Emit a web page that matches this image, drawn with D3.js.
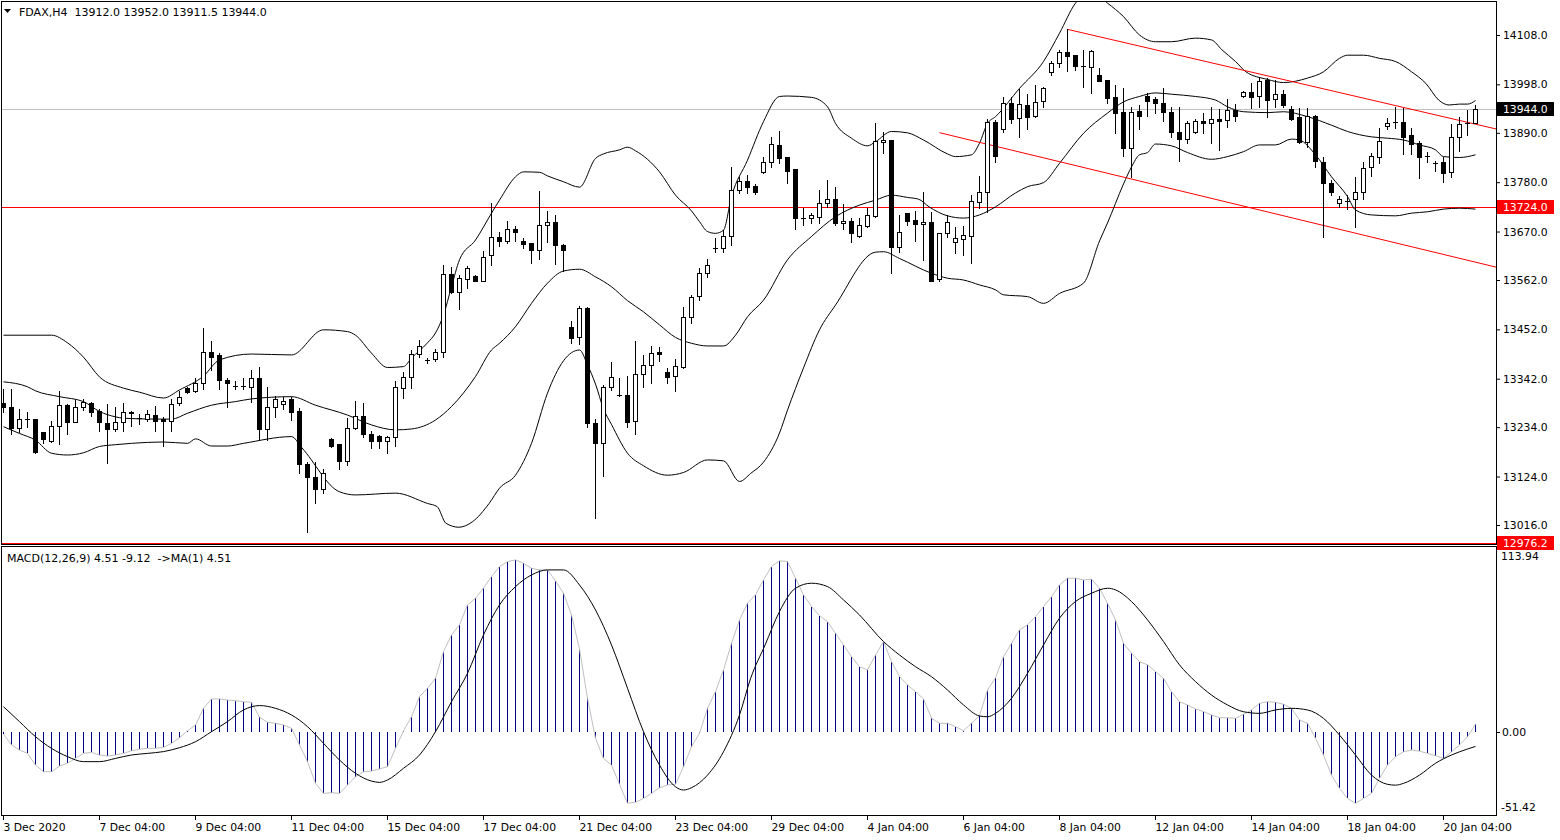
<!DOCTYPE html>
<html><head><meta charset="utf-8">
<script src="https://cdn.jsdelivr.net/npm/d3@7"></script>
<style>
html,body{margin:0;padding:0;background:#fff;}
svg{display:block;}
text{font-family:"DejaVu Sans",Verdana,sans-serif;}
</style></head><body>
<svg id="c" width="1560" height="840"></svg>
<script>
// ---------------- DATA ----------------
const symbol = "FDAX,H4";
const opens = [13287,13278.3,13231.5,13252.3,13252.3,13222.5,13204,13237.4,13282.7,13246.3,
13278.3,13287,13270.8,13242.6,13229.2,13244.8,13268.6,13255.2,13251.5,13260.4,
13251.5,13247.8,13287.2,13320.6,13313.9,13331.8,13400.8,13394.9,13339.2,13326.5,
13326.5,13322.8,13342.9,13229.2,13278.2,13285,13296.8,13270.1,13151.9,13123.7,
13095.5,13206.9,13196.5,13159.4,13231.4,13258.9,13218.8,13214.4,13203.2,13212.9,
13322,13345.1,13397.1,13383,13385.2,13400.8,13574.6,13536,13563.5,13571.7,
13560.5,13617.7,13658.5,13649.6,13676.4,13648.9,13643.7,13628.8,13685.3,13690.5,
13640,13456.5,13434.2,13498.9,13244,13199.4,13322.8,13305.7,13305.7,13248.4,
13351.7,13372.5,13400.8,13356.2,13348,13368.8,13480.3,13526.3,13576.8,13632.5,
13632.5,13660,13762.5,13783.3,13771.4,13801.9,13824.2,13862.8,13836.8,13808.6,
13700.9,13700.9,13703.1,13732.8,13741.7,13688.2,13692.7,13660,13682.3,13704.6,
13868.8,13874,13634.8,13710.5,13695.7,13686,13690.5,13563.5,13666,13647.4,
13652.6,13660.7,13736.5,13757.3,13913.3,13897.8,13955.7,13922.3,13952,13928.2,
13960.9,14024.8,14044.9,14069.4,14063.4,14039.6,14037.4,14018.9,14007.7,13969.1,
13937.1,13856.9,13938.6,13972.8,13964.6,13955.7,13935.6,13892.6,13875.5,13892.6,
13917.1,13911.1,13920,13918.5,13940.8,13972.8,13980.3,13972.8,14007.8,13964.7,
13976.6,13943.1,13926,13870.3,13927.5,13825.8,13777.5,13732.9,13738.8,13741.8,
13758.9,13813.1,13836.9,13905.2,13913.4,13914.9,13885.2,13866.6,13839.1,13822,
13824.3,13802,13881.5,13911.2,13912.0];
const highs = [13319,13319.1,13273.8,13267.1,13252.3,13224,13247.8,13314.7,13285,13294.6,
13296,13290.2,13275.3,13285.7,13278.3,13287.2,13270.8,13263.4,13272.3,13281.2,
13257.5,13296.8,13313.9,13324.3,13344.4,13455.8,13426.1,13398.6,13342.9,13336.9,
13342.9,13361.4,13367.4,13324.3,13304.2,13300.5,13302,13276,13157.1,13157.1,
13140,13209.1,13196.5,13253.7,13293.1,13287.2,13226.2,13216.6,13214.4,13337.7,
13357.7,13406,13428.3,13389,13409,13595.4,13590.2,13573.2,13593.2,13573.2,
13626.6,13734.4,13669.7,13693.4,13682.3,13654.8,13643.7,13761,13716.5,13706.8,
13642.2,13470.6,13504,13502.5,13251.4,13327.9,13380,13342.8,13348,13426,
13394.8,13414.9,13413.4,13366.6,13385.1,13501,13528.5,13589.4,13608,13654.8,
13673.4,13813,13790.7,13796,13775.1,13836.8,13880,13894,13836.8,13808.6,
13723.2,13712,13762.5,13784.8,13770,13730.6,13699.4,13699.4,13721.7,13911.1,
13892.5,13874,13706.8,13710.5,13715.7,13757.3,13714.2,13666,13706.8,13680.8,
13682.3,13751.4,13793.7,13920,13918.5,13969,13969,13986.9,13976.5,13996.6,
13991.4,14050.8,14074.6,14120.6,14063.4,14074.6,14074.6,14033.7,14007.7,13996.6,
13989.1,13946.8,13952,13978,13969,13989.1,13948.3,13946.8,13917.1,13920.8,
13933.4,13946.8,13942.3,13965.4,13954.2,13983.9,14000.3,14015.2,14011.5,14007.8,
13985.5,13949.8,13944.6,13944.6,13929.8,13836.9,13784.9,13749.2,13751.5,13792.3,
13825.8,13844.3,13901.4,13922.3,13946.8,13944.6,13900,13871.8,13848,13828,
13835.4,13909.7,13924.5,13940.9,13952.0];
const lows = [13268,13218.8,13224,13235.2,13175.7,13198,13200.2,13196.5,13218,13244.8,
13272.3,13259.7,13226.3,13153.5,13225.5,13225.5,13236.7,13240.4,13247.8,13225.5,
13192.8,13225.5,13283.5,13311,13313.2,13319.1,13361.5,13318.4,13278.3,13318.4,
13318.4,13289.4,13206.9,13205.4,13257.5,13274.5,13250,13132.6,13001.2,13064.3,
13088,13190.6,13140,13149.7,13229.2,13212.9,13186.9,13186.9,13177.2,13192.8,
13298.3,13320.6,13391.2,13377,13382.2,13391.2,13532.3,13496.7,13543.4,13560.5,
13559.8,13595.4,13638.5,13645.2,13649.6,13634,13600.6,13608.8,13647.4,13596.9,
13582,13422.3,13419.3,13235.1,13030.8,13125.9,13316.8,13304.2,13233.6,13218,
13324.2,13331.6,13381.4,13333.1,13315.3,13365.1,13465.4,13517.4,13569.4,13625.1,
13625.1,13639.9,13756.6,13755.1,13753.6,13799.7,13813,13822,13778.9,13675.6,
13684.5,13689.7,13689.7,13725.4,13684.5,13674.9,13647.4,13657,13680.8,13703.1,
13844.3,13578.3,13625.1,13684.5,13649.6,13606.5,13560.5,13560.5,13658.5,13622.9,
13617.7,13600.6,13721.7,13714.2,13824.2,13891.1,13912.6,13881.4,13898.5,13926,
13948.3,14018.9,14037.4,14028.5,14030,13992.8,13979.5,14006.2,13955.7,13890.3,
13838.3,13792.3,13898.5,13928.2,13933.4,13917.1,13881.4,13827.9,13868,13890.3,
13890.3,13868,13851.7,13903.7,13917.1,13969,13944.6,13948.3,13926,13948.3,
13948.3,13918.6,13866.6,13859.2,13814.6,13657.1,13751.5,13725.4,13719.5,13679.4,
13741.8,13793.8,13823.5,13897.8,13901.5,13842.8,13842.8,13788.6,13825.8,13805.7,
13781.2,13790.8,13850.3,13885.2,13911.5];
const closes = [13278,13231.5,13252.3,13252.3,13179.5,13206.9,13237.4,13282.7,13246.3,13278.3,
13290,13268.6,13244.8,13229.2,13244.8,13267.1,13264.9,13255.2,13262.7,13248.5,
13248.5,13284.9,13300.6,13311.7,13331.8,13400.8,13391.2,13339.2,13331.8,13326.5,
13326.5,13342.9,13229.2,13278.2,13296.8,13293.1,13268.6,13151.2,13122.2,13095.5,
13131.1,13192.8,13159.4,13231.4,13258.9,13218.8,13203.9,13203.2,13212.1,13322.8,
13345.1,13397.1,13414.9,13383,13400.8,13574.6,13536,13565.7,13588,13560.5,
13614,13657.1,13648.9,13674.9,13669.7,13642.9,13628.8,13684.5,13690.5,13639.2,
13628.8,13432,13498.9,13244,13199.4,13324.2,13345.1,13305.7,13246.2,13351.7,
13372.5,13398.5,13396.3,13346.5,13370.3,13478.8,13524.8,13576.8,13595.4,13632.5,
13660.7,13762.5,13783.3,13769.9,13758.8,13825.7,13865,13834.6,13805.6,13700.9,
13700.9,13706.8,13732.8,13741.7,13688.2,13692.7,13666,13684.5,13707.5,13871.7,
13874,13634.8,13669.7,13694.2,13686,13690.5,13560.5,13666,13692,13654.8,
13662.2,13738,13757.3,13914.8,13839,13955.7,13920,13953.5,13926,13957.9,
13989.1,14044.9,14069.4,14061.9,14039.6,14039.6,14072.3,14006.2,13968.3,13934.9,
13856.9,13935.6,13928.2,13961.6,13955.7,13935.6,13892.6,13875.5,13912.6,13917.1,
13911.1,13920.8,13917,13940.8,13927.5,13980.2,13970.6,14006.3,13963.2,13976.6,
13952,13920.8,13868.8,13927.5,13828,13777.5,13758.9,13741.8,13738.8,13758.9,
13810.9,13838.4,13872.6,13912.7,13913.4,13881.5,13865.1,13836.9,13839.1,13822,
13801.2,13881.5,13909.7,13911.2,13944.0];

// Bollinger bands [bar, price]
const bbUpper = [[0,13439],[6,13439],[8,13422],[10,13390],[12,13346],[15,13321],[17,13312],[20,13299],[22,13317],[25,13348],[27,13384],[31,13397],[36,13395],[40,13451],[43,13447],[44,13439],[46,13399],[48,13367],[50,13369],[51,13388],[53,13422],[54,13444],[55,13484],[56,13547],[57,13607],[59,13651],[61,13711],[62,13740],[64,13792],[65,13803],[67,13802],[68,13794],[70,13781],[72,13769],[74,13833],[75,13843],[77,13852],[78,13858],[79,13850],[82,13803],[84,13751],[86,13716],[87,13692],[88,13670],[89,13666],[90,13673],[91,13748],[93,13829],[95,13915],[97,13971],[98,13972],[101,13969],[103,13948],[104,13911],[106,13878],[108,13861],[109,13870],[111,13893],[113,13890],[115,13874],[118,13843],[119,13837],[121,13841],[122,13867],[123,13911],[124,13926],[127,13989],[130,14049],[132,14112],[134,14179],[136,14205],[138,14179],[140,14149],[142,14108],[144,14093],[146,14093],[149,14101],[151,14097],[152.3,14075],[154,14049],[155.3,14026],[158,14009],[160,14002],[163,14012],[165,14026],[167,14056],[168,14063],[170,14063],[172,14056],[174,14049],[176,14026],[177.8,14000],[179.4,13963],[180.7,13952],[182,13954],[183,13954],[184,13962]];
const bbMiddle = [[0,13335],[3,13324],[4,13315],[7,13302],[10,13291],[12,13269],[14,13257],[15,13254],[19,13252],[21,13252],[23,13265],[26,13283],[29,13291],[31,13297],[36,13302],[39,13283],[43,13261],[46,13239],[49,13228],[51,13230],[54,13250],[56,13280],[59,13347],[61,13406],[62,13421],[64,13458],[66,13510],[68,13555],[70,13582],[72,13586],[74,13569],[76,13547],[78,13516],[80,13491],[82,13462],[84,13434],[86,13421],[88,13415],[90,13415],[91.5,13439],[93,13480],[95,13517],[98,13607],[101,13659],[104,13703],[107,13729],[109,13740],[111,13751],[113,13746],[114.4,13742],[115.7,13725],[118,13705],[120,13700],[122,13707],[124,13725],[126.5,13756],[128,13770],[130,13779],[132,13822],[135,13889],[138,13934],[140,13959],[142,13971],[144,13979],[146,13976],[149,13971],[151.5,13963],[153,13948],[155,13937],[158,13935],[160,13937],[163,13926],[166,13907],[168,13893],[171,13881],[173,13878],[175,13874],[177,13863],[179,13852],[180,13837],[182,13835],[184,13841]];
const bbLower = [[0,13235],[2,13220],[4,13205],[6,13176],[8,13172],[10,13177],[12,13191],[14,13195],[16,13198],[20,13201],[23,13198],[24,13208],[26,13192],[28,13192],[30,13198],[36,13213],[37.3,13188],[42,13090],[44,13083],[49,13087],[53,13064],[54.2,13057],[55.3,13020],[56.9,13011],[58.6,13023],[60.7,13064],[62,13098],[64,13127],[66,13198],[68,13310],[70,13382],[72,13406],[73,13373],[74,13330],[75,13275],[76,13240],[78,13176],[80,13148],[83,13127],[85,13133],[88,13161],[90,13159],[92,13113],[93.4,13131],[95,13156],[97,13221],[98,13272],[100,13366],[102,13451],[104,13506],[109,13624],[110,13625],[112,13610],[116,13577],[118,13566],[120,13562],[122,13551],[124,13540],[125,13529],[128,13525],[130,13510],[132,13532],[135,13555],[137,13649],[138,13689],[140,13776],[141,13814],[142,13841],[143,13846],[144,13865],[146,13861],[148,13846],[151,13831],[153,13837],[155,13848],[157,13863],[159,13863],[161,13876],[162,13874],[164,13841],[166,13792],[168,13748],[169,13718],[171,13707],[174,13705],[176,13711],[178,13714],[180,13720],[182,13722],[184,13720]];

// Trend channel lines [bar, price]
const channelUpper = [[133,14120.6],[184,13909.5]];
const channelLower = [[117,13890.3],[184,13602]];
const levelLines = [13724.0, 12976.2];

// MACD(12,26,9)
const macdMain = [-1.5,-8.2,-11.3,-13.4,-20.6,-24.7,-24.7,-21.2,-19.5,-16.5,-13.4,-12.8,-14.4,-15.0,-14.4,-13.4,-11.7,-10.9,-10.3,-10.3,-9.7,-7.2,-3.7,
0.5,4.1,14.4,20.2,20.2,19.5,19.1,18.5,18.1,8.9,
5.8,5.2,4.1,2.1,-8.2,-18.5,-31.9,-38.1,-37.7,-38.1,
-32.9,-27.8,-24.7,-24.3,-23.0,-21.6,-10.3,0.5,9.2,21.6,
26.8,32.9,49.4,59.7,65.9,78.2,82.3,88.5,95.7,101.9,
104.9,106.0,103.9,100.8,99.8,99.8,93.0,85.4,72.0,51.0,
20.6,-4.1,-16.5,-20.6,-32.5,-44.2,-43.6,-41.2,-38.1,-34.6,
-32.9,-32.5,-21.6,-9.3,-1.0,14.4,24.7,38.1,54.5,68.9,
79.2,
84.4,93.6,101.9,105.4,105.0,94.7,84.4,77.2,71.6,67.9,
60.7,53.5,46.3,40.1,38.1,47.3,55.6,43.2,34.0,28.8,
24.7,20.2,8.2,5.2,5.2,3.1,0.6,5.2,9.9,25.7,
33.3,46.3,54.5,62.8,65.9,71.0,77.2,83.3,90.6,94.7,
94.7,93.6,94.1,88.5,79.2,68.9,54.5,48.4,43.2,41.2,
37.1,32.9,24.7,18.5,16.5,14.0,12.4,10.3,8.6,8.6,
8.2,10.7,13.4,17.5,18.5,18.1,16.9,14.4,7.2,5.2,
-4.1,-14.4,-26.8,-35.0,-41.2,-44.2,-41.2,-38.1,-28.8,-20.6,
-15.4,-12.4,-11.3,-12.0,-13.4,-14.8,-16.5,-12.4,-8.2,-3.1,
4.51];
const macdSignal = [[0,15.4],[2,6.2],[4,-3.1],[6,-10.3],[8,-15.4],[10,-18.5],[12,-18.5],[14,-16.5],[16,-14.4],[18,-13.4],[20,-12.3],[22,-9.9],[24,-6.2],[26,0],[28,6.2],[30,13.4],[32,16.1],[34,14.4],[36,10.3],[38,3.1],[40,-7.2],[42,-17.5],[44,-25.7],[46,-30.5],[47,-31.3],[48,-29.8],[50,-22.6],[52,-14.4],[54,0],[56,18.5],[58,36],[60,59.7],[62,78.2],[64,89.5],[66,96.7],[68,99.8],[70,99.8],[72,90.5],[74,75.1],[76,53.5],[78,26.8],[80,0],[82,-20.6],[84,-34],[85,-36],[86,-34.6],[88,-26.8],[90,-12.4],[92,10.3],[93.4,33],[95.2,53.5],[97,74.1],[99,88.5],[101,91.6],[103,89.5],[105,81.3],[107,72],[110,55.6],[112,47.3],[114,40.1],[116,33.9],[118,25.7],[120,16.5],[122,9.7],[123,9.2],[124,11.3],[126,20.6],[128,36],[130,53.5],[132,70],[134,80.3],[136,85.4],[138,88.5],[139,87.5],[141,80.3],[143,69],[145,55.6],[147,41.2],[149,30.9],[151,22.6],[153,16.5],[155,12.3],[157,11.3],[159,13.4],[161,14.4],[163,13.4],[165,8.2],[167,-2.1],[169,-14.4],[171,-26.8],[173,-32.5],[174,-33],[175,-31.9],[177,-26.8],[179,-19.5],[181,-14.4],[183,-10.7],[184,-9.12]];
const macdRange = [-51.42, 113.94];

// Axes
const priceTicks = [14108,13998,13890,13780,13670,13562,13452,13342,13234,13124,13016];
const timeTickBars = [0,12,24,36,48,60,72,84,96,108,120,132,144,156,168,180];
const timeLabels = ["3 Dec 2020","7 Dec 04:00","9 Dec 04:00","11 Dec 04:00","15 Dec 04:00","17 Dec 04:00","21 Dec 04:00","23 Dec 04:00","29 Dec 04:00","4 Jan 04:00","6 Jan 04:00","8 Jan 04:00","12 Jan 04:00","14 Jan 04:00","18 Jan 04:00","20 Jan 04:00"];

// ---------------- DRAW ----------------
const svg = d3.select('#c');
const N = closes.length;
const PL = 1, PR = 1496, PT = 1, PB = 544, MT = 546, MB = 815;
const x = d3.scaleLinear().domain([0, N - 1]).range([3, 3 + 8 * (N - 1)]);
const y = d3.scaleLinear().domain([13016, 14108]).range([525, 35]);
const ym = d3.scaleLinear().domain(macdRange).range([MB, MT + 1]);
const f1 = v => v.toFixed(1), f2 = v => v.toFixed(2);
const RED = "#ff0000";
const NB = "\u00a0";

const defs = svg.append('defs');
defs.append('clipPath').attr('id','clipMain').append('rect')
  .attr('x', PL + 1).attr('y', PT + 1).attr('width', PR - PL - 1).attr('height', PB - PT - 1);
defs.append('clipPath').attr('id','clipMacd').append('rect')
  .attr('x', PL + 1).attr('y', MT + 1).attr('width', PR - PL - 1).attr('height', MB - MT - 1);

const gMain = svg.append('g').attr('clip-path','url(#clipMain)');

// bid line
const bid = closes[N - 1];
gMain.append('line').attr('x1', PL).attr('x2', PR)
  .attr('y1', Math.round(y(bid)) + 0.5).attr('y2', Math.round(y(bid)) + 0.5)
  .attr('stroke', '#c0c0c0').attr('stroke-width', 1);
// level lines
gMain.selectAll('line.lvl').data(levelLines).join('line').attr('class','lvl')
  .attr('x1', PL).attr('x2', PR)
  .attr('y1', d => Math.round(y(d)) + 0.5).attr('y2', d => Math.round(y(d)) + 0.5)
  .attr('stroke', RED).attr('stroke-width', 1);

// Bollinger bands
const bandLine = d3.line().x(d => x(d[0]) + 0.5).y(d => y(d[1])).curve(d3.curveMonotoneX);
[bbUpper, bbMiddle, bbLower].forEach(b => {
  gMain.append('path').attr('d', bandLine(b)).attr('fill','none').attr('stroke','#000').attr('stroke-width',1);
});

// channel lines (rays to right edge)
const iEdge = x.invert(PR);
[channelUpper, channelLower].forEach(c => {
  const ext = d3.scaleLinear().domain([c[0][0], c[1][0]]).range([c[0][1], c[1][1]]);
  gMain.append('line')
    .attr('x1', x(c[0][0]) + 0.5).attr('y1', y(c[0][1]))
    .attr('x2', x(iEdge)).attr('y2', y(ext(iEdge)))
    .attr('stroke', RED).attr('stroke-width', 1);
});

// candles
const gC = gMain.append('g');
d3.range(N).forEach(i => {
  const cx = Math.round(x(i));
  const yh = Math.round(y(highs[i])), yl = Math.round(y(lows[i]));
  const yo = Math.round(y(opens[i])), yc = Math.round(y(closes[i]));
  gC.append('rect').attr('x', cx).attr('y', yh).attr('width', 1).attr('height', yl - yh + 1).attr('fill', '#000');
  const top = Math.min(yo, yc), bot = Math.max(yo, yc);
  if (bot - top < 1) {
    gC.append('rect').attr('x', cx - 2).attr('y', top).attr('width', 5).attr('height', 1).attr('fill', '#000');
  } else {
    gC.append('rect').attr('x', cx - 2).attr('y', top).attr('width', 5).attr('height', bot - top + 1).attr('fill', '#000');
    if (closes[i] > opens[i] && bot - top >= 2) {
      gC.append('rect').attr('x', cx - 1).attr('y', top + 1).attr('width', 3).attr('height', bot - top - 1).attr('fill', '#fff');
    }
  }
});

// MACD panel
const gM = svg.append('g').attr('clip-path','url(#clipMacd)');
const y0 = Math.round(ym(0));
gM.selectAll('rect.h').data(macdMain).join('rect').attr('class','h')
  .attr('x', (d, i) => Math.round(x(i)))
  .attr('width', 1)
  .attr('y', d => Math.min(y0, Math.round(ym(d))))
  .attr('height', d => Math.max(1, Math.abs(Math.round(ym(d)) - y0)))
  .attr('fill', '#000080');
gM.append('path')
  .attr('d', d3.line().x((d, i) => x(i) + 0.5).y(d => ym(d))(macdMain))
  .attr('fill','none').attr('stroke','#c0c0c0').attr('stroke-width',1);
gM.append('path')
  .attr('d', d3.line().x(d => x(d[0]) + 0.5).y(d => ym(d[1])).curve(d3.curveMonotoneX)(macdSignal))
  .attr('fill','none').attr('stroke','#000').attr('stroke-width',1);

// panel borders
svg.append('rect').attr('x', PL + 0.5).attr('y', PT + 0.5).attr('width', PR - PL).attr('height', PB - PT)
  .attr('fill','none').attr('stroke','#000');
svg.append('rect').attr('x', PL + 0.5).attr('y', MT + 0.5).attr('width', PR - PL).attr('height', MB - MT)
  .attr('fill','none').attr('stroke','#000');

// price axis
const ay = svg.append('g').attr('transform', `translate(${PR},0)`)
  .call(d3.axisRight(y).tickValues(priceTicks).tickFormat(f1).tickSize(4).tickPadding(3));
ay.select('.domain').remove();
ay.selectAll('text').attr('font-family','"DejaVu Sans",Verdana,sans-serif').attr('font-size','10.8px').attr('fill','#000');
ay.selectAll('line').attr('stroke','#000');

// price marker boxes
const markers = [{p: bid, bg: '#000'}].concat(levelLines.map(p => ({p, bg: RED})));
markers.forEach(m => {
  const yy = Math.round(y(m.p));
  svg.append('rect').attr('x', PR + 1).attr('y', yy - 7).attr('width', 57).attr('height', 14).attr('fill', m.bg);
  svg.append('text').attr('x', PR + 7).attr('y', yy + 4).attr('font-size','10.8px').attr('fill','#fff').text(f1(m.p));
});

// MACD axis
svg.append('line').attr('x1', PR).attr('x2', PR + 4).attr('y1', y0 + 0.5).attr('y2', y0 + 0.5).attr('stroke','#000');
svg.append('text').attr('x', PR + 6).attr('y', y0 + 4).attr('font-size','10.8px').text(f2(0));
svg.append('text').attr('x', PR + 5).attr('y', MT + 14).attr('font-size','10.8px').text(f2(macdRange[1]));
svg.append('text').attr('x', PR + 5).attr('y', MB - 4).attr('font-size','10.8px').text(f2(macdRange[0]));

// time axis
const ax = svg.append('g').attr('transform', `translate(0,${MB + 1})`)
  .call(d3.axisBottom(x).tickValues(timeTickBars).tickFormat((d, i) => timeLabels[i]).tickSize(4).tickPadding(3));
ax.select('.domain').remove();
ax.selectAll('text').attr('text-anchor','start').attr('font-family','"DejaVu Sans",Verdana,sans-serif').attr('font-size','10.8px').attr('fill','#000');
ax.selectAll('line').attr('stroke','#000');

// titles
svg.append('path').attr('d','M4,9L11,9L7.5,13Z').attr('fill','#000');
svg.append('text').attr('x', 19).attr('y', 16).attr('font-size','11px')
  .text(`${symbol}${NB}${NB}${f1(opens[N-1])} ${f1(highs[N-1])} ${f1(lows[N-1])} ${f1(closes[N-1])}`);
svg.append('text').attr('x', 7).attr('y', 562).attr('font-size','11px')
  .text(`MACD(12,26,9) ${f2(macdMain[N-1])} ${f2(macdSignal[macdSignal.length-1][1])}${NB}${NB}->MA(1) ${f2(macdMain[N-1])}`);
</script>
</body></html>
